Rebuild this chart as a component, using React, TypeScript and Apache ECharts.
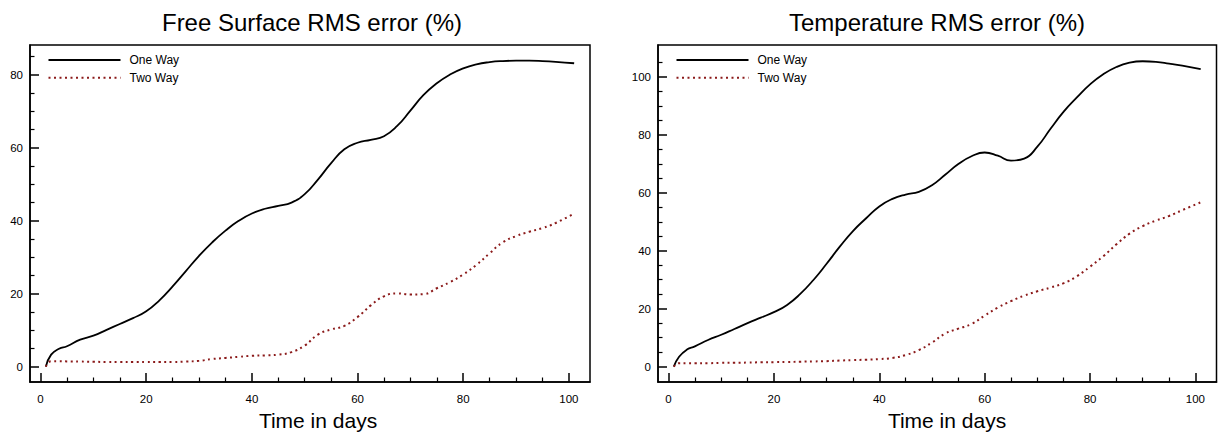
import React, { useEffect, useRef } from "react";
import * as echarts from "echarts";

const titles = ["Free Surface RMS error (%)", "Temperature RMS error (%)"];
const xName = "Time in days";
const seriesNames = ["One Way", "Two Way"];

const days = [1, 2, 3.5, 5, 7.5, 10, 12.5, 15, 17.5, 20, 22.5, 25, 27.5, 30, 32.5, 35, 37.5, 40, 42.5, 45, 47.5, 50, 52.5, 55, 57.5, 60, 62.5, 65, 67.5, 70, 72.5, 75, 77.5, 80, 82.5, 85, 87.5, 90, 92.5, 95, 97.5, 101];

const fsOneWay = [0, 3.3, 4.9, 5.6, 7.4, 8.5, 10.1, 11.7, 13.3, 15.2, 18.2, 22.0, 26.2, 30.4, 34.1, 37.3, 40.0, 42.0, 43.3, 44.1, 45.0, 47.3, 51.3, 55.8, 59.6, 61.4, 62.2, 63.2, 66.0, 70.2, 74.5, 77.7, 80.1, 81.8, 82.9, 83.5, 83.8, 83.9, 83.9, 83.8, 83.6, 83.2];
const fsTwoWay = [0, 1.5, 1.5, 1.45, 1.4, 1.35, 1.3, 1.3, 1.3, 1.3, 1.3, 1.3, 1.4, 1.6, 2.1, 2.4, 2.7, 3.0, 3.1, 3.3, 4.0, 5.8, 8.8, 10.2, 11.2, 13.6, 16.8, 19.3, 20.1, 19.8, 19.9, 21.5, 23.2, 25.3, 27.9, 31.1, 34.1, 35.8, 37.0, 38.0, 39.4, 42.0];
const tOneWay = [0, 3.4, 5.9, 7.0, 9.2, 11.0, 13.0, 15.0, 16.9, 18.8, 21.3, 25.1, 29.9, 35.5, 41.4, 46.8, 51.2, 55.3, 57.9, 59.4, 60.3, 62.6, 66.2, 69.9, 72.6, 73.9, 72.8, 71.1, 71.8, 75.9, 82.1, 88.0, 92.9, 97.4, 100.9, 103.4, 104.9, 105.4, 105.2, 104.6, 103.9, 102.7];
const tTwoWay = [0, 1.2, 1.2, 1.2, 1.2, 1.3, 1.35, 1.4, 1.5, 1.55, 1.6, 1.7, 1.8, 1.9, 2.1, 2.25, 2.4, 2.6, 3.0, 4.0, 5.7, 8.3, 11.4, 13.1, 14.7, 17.6, 20.4, 22.6, 24.5, 26.0, 27.3, 28.8, 31.2, 34.5, 38.1, 42.2, 45.9, 48.5, 50.4, 52.0, 54.0, 56.7];

const xMajorTicks = [0, 20, 40, 60, 80, 100];
const xMinorTicks = [5, 10, 15, 25, 30, 35, 45, 50, 55, 65, 70, 75, 85, 90, 95];
const fsYMajor = [0, 20, 40, 60, 80];
const fsYMinor = [5, 10, 15, 25, 30, 35, 45, 50, 55, 65, 70, 75, 85];
const tYMajor = [0, 20, 40, 60, 80, 100];
const tYMinor = [5, 10, 15, 25, 30, 35, 45, 50, 55, 65, 70, 75, 85, 90, 95, 105];

const FONT = "Liberation Sans, Arial, sans-serif";

const grids = [
  { left: 30, top: 45, width: 560, height: 337 },
  { left: 658, top: 45, width: 558.5, height: 337 },
];
const yRanges = [
  { min: -4.2, max: 88.2, major: fsYMajor, minor: fsYMinor },
  { min: -5.3, max: 111, major: tYMajor, minor: tYMinor },
];

export default function App() {
  const ref = useRef<HTMLDivElement>(null);
  useEffect(() => {
    if (!ref.current) return;
    const chart = echarts.init(ref.current, null, { renderer: "svg" });
    const xAxis: any[] = [];
    const yAxis: any[] = [];
    grids.forEach((_, i) => {
      xAxis.push({
        type: "value", gridIndex: i, min: -2, max: 104, position: "bottom",
        axisLine: { show: true, onZero: false, lineStyle: { color: "#000", width: 1.5 } },
        axisTick: { show: true, inside: true, length: 9, customValues: xMajorTicks, lineStyle: { color: "#000", width: 1.5 } },
        axisLabel: { show: true, customValues: xMajorTicks, color: "#000", fontSize: 11.5, fontFamily: FONT, margin: 11 },
        splitLine: { show: false },
      });
      xAxis.push({
        type: "value", gridIndex: i, min: -2, max: 104, position: "bottom",
        axisLine: { show: false, onZero: false },
        axisTick: { show: true, inside: true, length: 4.5, customValues: xMinorTicks, lineStyle: { color: "#000", width: 1.2 } },
        axisLabel: { show: false },
        splitLine: { show: false },
      });
      const yr = yRanges[i];
      yAxis.push({
        type: "value", gridIndex: i, min: yr.min, max: yr.max, position: "left",
        axisLine: { show: true, onZero: false, lineStyle: { color: "#000", width: 1.5 } },
        axisTick: { show: true, inside: true, length: 9, customValues: yr.major, lineStyle: { color: "#000", width: 1.5 } },
        axisLabel: { show: true, customValues: yr.major, color: "#000", fontSize: 11.5, fontFamily: FONT, margin: 7 },
        splitLine: { show: false },
      });
      yAxis.push({
        type: "value", gridIndex: i, min: yr.min, max: yr.max, position: "left",
        axisLine: { show: false, onZero: false },
        axisTick: { show: true, inside: true, length: 4.5, customValues: yr.minor, lineStyle: { color: "#000", width: 1.2 } },
        axisLabel: { show: false },
        splitLine: { show: false },
      });
    });

    const mk = (ys: number[]) => days.map((d, k) => [d, ys[k]]);
    const lineSeries = (name: string, ys: number[], gi: number, dotted: boolean) => ({
      type: "line", name, xAxisIndex: gi * 2, yAxisIndex: gi * 2,
      data: mk(ys), symbol: "none", smooth: 0.5,
      lineStyle: dotted
        ? { color: "#8b1a1a", width: 2, type: [2, 3.5] }
        : { color: "#000", width: 1.8, type: "solid" },
      itemStyle: { color: dotted ? "#8b1a1a" : "#000" },
    });

    chart.setOption({
      animation: false,
      grid: grids.map((g) => ({ ...g, show: true, borderColor: "#000", borderWidth: 1.5, backgroundColor: "transparent" })),
      xAxis, yAxis,
      legend: grids.map((g) => ({
        orient: "vertical", left: g.left + 17.5, top: 54, padding: 0,
        itemWidth: 72, itemHeight: 12, itemGap: 5.7,
        data: seriesNames.map((n) => ({ name: n })),
        itemStyle: { opacity: 0 },
        textStyle: { color: "#000", fontSize: 12, fontFamily: FONT, padding: [0, 0, 0, 4] },
        selectedMode: false,
      })),
      graphic: [
        { type: "text", x: 312, y: 22, style: { text: titles[0], fontSize: 24, fontFamily: FONT, fill: "#000", textAlign: "center", textVerticalAlign: "middle" } },
        { type: "text", x: 937, y: 22, style: { text: titles[1], fontSize: 24, fontFamily: FONT, fill: "#000", textAlign: "center", textVerticalAlign: "middle" } },
        { type: "text", x: 318, y: 420, style: { text: xName, fontSize: 21, fontFamily: FONT, fill: "#000", textAlign: "center", textVerticalAlign: "middle" } },
        { type: "text", x: 947, y: 420, style: { text: xName, fontSize: 21, fontFamily: FONT, fill: "#000", textAlign: "center", textVerticalAlign: "middle" } },
      ],
      series: [
        lineSeries(seriesNames[0], fsOneWay, 0, false),
        lineSeries(seriesNames[1], fsTwoWay, 0, true),
        lineSeries(seriesNames[0], tOneWay, 1, false),
        lineSeries(seriesNames[1], tTwoWay, 1, true),
      ],
    });
    return () => chart.dispose();
  }, []);
  return <div ref={ref} style={{ position: "absolute", left: 0, top: 0, width: 1219, height: 433 }} />;
}
